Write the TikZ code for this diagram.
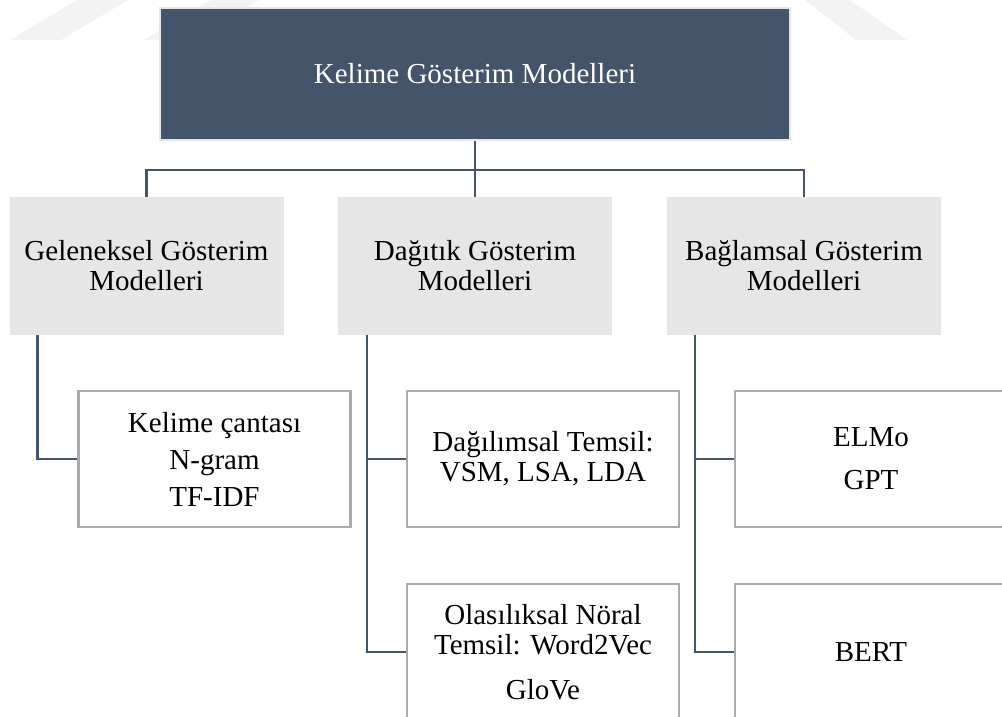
\documentclass[tikz,border=0pt]{standalone}
\usepackage{fontspec}
\setmainfont{Liberation Serif}
\usetikzlibrary{positioning, calc}
\definecolor{headcolor}{RGB}{68,84,106}
\definecolor{groupcolor}{RGB}{231,230,230}
\definecolor{itemborder}{RGB}{170,170,170}
\definecolor{markcolor}{RGB}{243,243,243}

\begin{document}
\begin{tikzpicture}[
    x=1pt, y=-1pt,
    font=\fontsize{29}{30}\selectfont,
    head/.style={draw=groupcolor, line width=2pt, fill=headcolor, text=white, minimum width=630pt, minimum height=132pt, inner sep=0pt},
    group/.style={fill=groupcolor, minimum width=274pt, minimum height=138pt, align=center, inner sep=0pt},
    item/.style={draw=itemborder, line width=2.5pt, fill=white, minimum width=272pt, minimum height=136pt, align=center, inner sep=0pt},
    link/.style={draw=headcolor, line width=2.5pt}
]
    \useasboundingbox (0,0) rectangle (1002,717);
    \clip (0,0) rectangle (1002,717);

    % faint watermark stripes
    \fill[markcolor] (10,40) -- (61,40) -- (128,0) -- (77,0) -- cycle;
    \fill[markcolor] (144,40) -- (192,40) -- (259,0) -- (211,0) -- cycle;
    \fill[markcolor] (805,0) -- (850,0) -- (907,40) -- (856,40) -- cycle;

    % Top level
    \node[head] (root) at (475,74) {Kelime Gösterim Modelleri};

    % Model groups
    \node[group] (gel) at (146.5,266) {Geleneksel Gösterim\\Modelleri};
    \node[group] (dag) at (475,266) {Dağıtık Gösterim\\Modelleri};
    \node[group] (bag) at (804,266) {Bağlamsal Gösterim\\Modelleri};

    % Members
    \node[item] (kel) at (214.5,459) {Kelime çantası\\[7pt]N-gram\\[7pt]TF-IDF};
    \node[item] (dgl) at (543,459) {Dağılımsal Temsil:\\VSM, LSA, LDA};
    \node[item] (ola) at (543,652) {Olasılıksal Nöral\\Temsil: Word2Vec\\[15pt]GloVe};
    \node[item] (elm) at (871,459) {ELMo\\[13pt]GPT};
    \node[item] (bert) at (871,652) {BERT};

    % Connections
    \draw[link] (root.south) -- (dag.north);
    \draw[link] (gel.north) -- ++(0,-27) -| (bag.north);
    \draw[link] ([xshift=28pt]gel.south west) |- (kel.west);
    \draw[link] ([xshift=29pt]dag.south west) |- (dgl.west);
    \draw[link] ([xshift=29pt]dag.south west) |- (ola.west);
    \draw[link] ([xshift=28pt]bag.south west) |- (elm.west);
    \draw[link] ([xshift=28pt]bag.south west) |- (bert.west);
\end{tikzpicture}
\end{document}
